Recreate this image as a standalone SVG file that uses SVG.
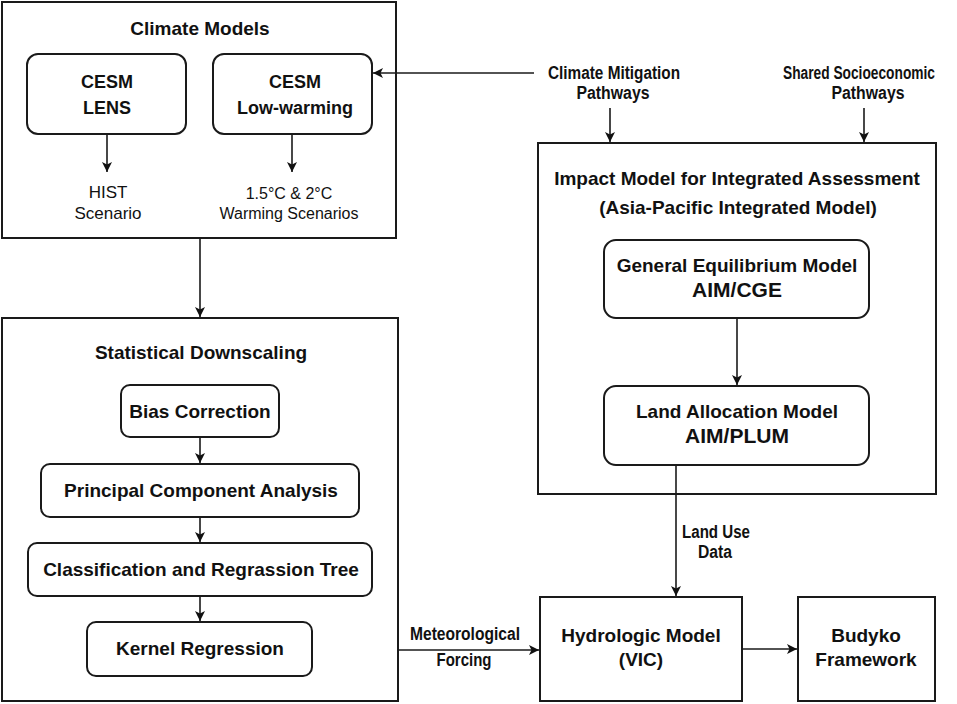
<svg xmlns="http://www.w3.org/2000/svg" width="957" height="704" viewBox="0 0 957 704">
<defs>
<style>
.box{fill:#fff;stroke:#1a1a1a;stroke-width:2}
.ln{fill:none;stroke:#1a1a1a;stroke-width:1.6}
.b{font-family:"Liberation Sans",Arial,sans-serif;font-weight:bold;fill:#111;text-anchor:middle}
.r{font-family:"Liberation Sans",Arial,sans-serif;fill:#111;text-anchor:middle}
.n{font-family:"Liberation Sans",Arial,sans-serif;font-weight:bold;font-size:18px;fill:#111;text-anchor:middle}
</style>
<marker id="ah" viewBox="0 0 10 10" refX="10" refY="5" markerWidth="10" markerHeight="10" markerUnits="userSpaceOnUse" orient="auto">
<path d="M0,0 L10,5 L0,10 L2.5,5 Z" fill="#111"/>
</marker>
</defs>
<rect width="957" height="704" fill="#fff"/>

<g id="climate-models">
<rect class="box" x="2" y="2" width="394" height="236"/>
<text class="b" x="200" y="35" font-size="19">Climate Models</text>
</g>
<g id="cesm-lens">
<rect class="box" x="27" y="54" width="159" height="80" rx="11"/>
<text class="b" x="107" y="88" font-size="18">CESM</text>
<text class="b" x="107" y="114" font-size="18">LENS</text>
</g>
<g id="cesm-low">
<rect class="box" x="213" y="54" width="159" height="80" rx="11"/>
<text class="b" x="295" y="88" font-size="18">CESM</text>
<text class="b" x="295" y="114" font-size="18">Low-warming</text>
</g>
<g id="hist">
<text class="r" x="108" y="198" font-size="17">HIST</text>
<text class="r" x="108" y="219" font-size="17">Scenario</text>
</g>
<g id="warming">
<text class="r" x="289" y="199" font-size="16">1.5°C &amp; 2°C</text>
<text class="r" x="289" y="219" font-size="16">Warming Scenarios</text>
</g>

<g id="stat-down">
<rect class="box" x="2" y="318" width="396" height="383"/>
<text class="b" x="201" y="359" font-size="19">Statistical Downscaling</text>
</g>
<g id="bias">
<rect class="box" x="121" y="385" width="158" height="52" rx="9"/>
<text class="b" x="200" y="418" font-size="19">Bias Correction</text>
</g>
<g id="pca">
<rect class="box" x="41" y="464" width="318" height="53" rx="9"/>
<text class="b" x="201" y="497" font-size="19">Principal Component Analysis</text>
</g>
<g id="cart">
<rect class="box" x="28" y="543" width="344" height="53" rx="9"/>
<text class="b" x="201" y="576" font-size="19">Classification and Regrassion Tree</text>
</g>
<g id="kernel">
<rect class="box" x="87" y="622" width="225" height="54" rx="9"/>
<text class="b" x="200" y="655" font-size="19">Kernel Regression</text>
</g>

<g id="cmp">
<text class="n" x="614" y="79" textLength="132" lengthAdjust="spacingAndGlyphs">Climate Mitigation</text>
<text class="n" x="613" y="99" textLength="73" lengthAdjust="spacingAndGlyphs">Pathways</text>
</g>
<g id="ssp">
<text class="n" x="859" y="79" textLength="152" lengthAdjust="spacingAndGlyphs">Shared Socioeconomic</text>
<text class="n" x="868" y="99" textLength="73" lengthAdjust="spacingAndGlyphs">Pathways</text>
</g>

<g id="impact">
<rect class="box" x="538" y="143" width="398" height="351"/>
<text class="b" x="737" y="185" font-size="19">Impact Model for Integrated Assessment</text>
<text class="b" x="738" y="214" font-size="19">(Asia-Pacific Integrated Model)</text>
</g>
<g id="cge">
<rect class="box" x="604" y="240" width="265" height="78" rx="12"/>
<text class="b" x="737" y="272" font-size="19">General Equilibrium Model</text>
<text class="b" x="737" y="297" font-size="21">AIM/CGE</text>
</g>
<g id="plum">
<rect class="box" x="604" y="386" width="265" height="79" rx="12"/>
<text class="b" x="737" y="418" font-size="19">Land Allocation Model</text>
<text class="b" x="737" y="443" font-size="21">AIM/PLUM</text>
</g>

<g id="hydro">
<rect class="box" x="540" y="597" width="202" height="104"/>
<text class="b" x="641" y="642" font-size="19">Hydrologic Model</text>
<text class="b" x="641" y="666" font-size="19">(VIC)</text>
</g>
<g id="budyko">
<rect class="box" x="798" y="597" width="137" height="104"/>
<text class="b" x="866" y="642" font-size="19">Budyko</text>
<text class="b" x="866" y="666" font-size="19">Framework</text>
</g>

<g id="labels">
<text class="n" x="716" y="538" textLength="68" lengthAdjust="spacingAndGlyphs">Land Use</text>
<text class="n" x="715" y="558" textLength="34" lengthAdjust="spacingAndGlyphs">Data</text>
<text class="n" x="465" y="640" textLength="110" lengthAdjust="spacingAndGlyphs">Meteorological</text>
<text class="n" x="464" y="666" textLength="55" lengthAdjust="spacingAndGlyphs">Forcing</text>
</g>

<g id="connectors">
<line class="ln" x1="107" y1="134" x2="107" y2="172" marker-end="url(#ah)"/>
<line class="ln" x1="292" y1="134" x2="292" y2="172" marker-end="url(#ah)"/>
<line class="ln" x1="534" y1="73" x2="373" y2="73" marker-end="url(#ah)"/>
<line class="ln" x1="200" y1="238" x2="200" y2="317" marker-end="url(#ah)"/>
<line class="ln" x1="200" y1="437" x2="200" y2="463" marker-end="url(#ah)"/>
<line class="ln" x1="200" y1="517" x2="200" y2="542" marker-end="url(#ah)"/>
<line class="ln" x1="200" y1="596" x2="200" y2="621" marker-end="url(#ah)"/>
<line class="ln" x1="610" y1="108" x2="610" y2="142" marker-end="url(#ah)"/>
<line class="ln" x1="864" y1="108" x2="864" y2="142" marker-end="url(#ah)"/>
<line class="ln" x1="737" y1="318" x2="737" y2="385" marker-end="url(#ah)"/>
<line class="ln" x1="676" y1="465" x2="676" y2="596" marker-end="url(#ah)"/>
<line class="ln" x1="398" y1="650" x2="539" y2="650" marker-end="url(#ah)"/>
<line class="ln" x1="742" y1="649" x2="797" y2="649" marker-end="url(#ah)"/>
</g>
</svg>
